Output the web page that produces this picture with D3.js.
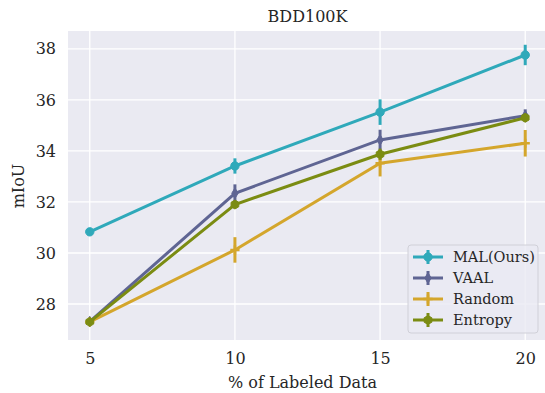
<!DOCTYPE html>
<html>
<head>
<meta charset="utf-8">
<script src="https://cdn.jsdelivr.net/npm/d3@7"></script>
<style>
  body { margin: 0; background: #fff; }
  svg text { font-family: "DejaVu Serif", serif; fill: #262626; }
</style>
</head>
<body>
<svg id="chart" width="545" height="393"></svg>
<script>
// values
const labeled = [5, 10, 15, 20];
const malMean = [30.83, 33.41, 35.52, 37.76];
const malErr = [0.12, 0.3, 0.5, 0.4];
const vaalMean = [27.31, 32.34, 34.43, 35.38];
const vaalErr = [0.12, 0.35, 0.4, 0.25];
const randomMean = [27.3, 30.12, 33.52, 34.3];
const randomErr = [0.1, 0.5, 0.52, 0.52];
const entropyMean = [27.3, 31.9, 33.87, 35.3];
const entropyErr = [0.1, 0.15, 0.22, 0.15];
const yTicks = [28, 30, 32, 34, 36, 38];

const series = [
  { name: "MAL(Ours)", color: "#2fa9ba", mean: malMean, err: malErr, marker: d3.symbolCircle, size: 55 },
  { name: "VAAL", color: "#5f6593", mean: vaalMean, err: vaalErr, marker: "diamond", size: 50 },
  { name: "Random", color: "#d4a62c", mean: randomMean, err: randomErr, marker: "plus", size: 50 },
  { name: "Entropy", color: "#7b8c12", mean: entropyMean, err: entropyErr, marker: "hexagon", size: 55 }
];

const svg = d3.select("#chart");
const margin = { left: 68, top: 31, right: 547, bottom: 340 };

const x = d3.scaleLinear().domain([4.25, 20.75]).range([margin.left, margin.right]);
const y = d3.scaleLinear().domain([26.59, 38.7]).range([margin.bottom, margin.top]);

svg.append("rect")
  .attr("x", margin.left).attr("y", margin.top)
  .attr("width", margin.right - margin.left).attr("height", margin.bottom - margin.top)
  .attr("fill", "#eaeaf2");

// grid
svg.append("g").selectAll("line").data(labeled).join("line")
  .attr("x1", d => x(d)).attr("x2", d => x(d))
  .attr("y1", margin.top).attr("y2", margin.bottom)
  .attr("stroke", "#fff").attr("stroke-width", 1.3);
svg.append("g").selectAll("line").data(yTicks).join("line")
  .attr("x1", margin.left).attr("x2", margin.right)
  .attr("y1", d => y(d)).attr("y2", d => y(d))
  .attr("stroke", "#fff").attr("stroke-width", 1.3);

// axes (labels only, seaborn style)
const xAxis = svg.append("g").attr("transform", `translate(0,${margin.bottom})`)
  .call(d3.axisBottom(x).tickValues(labeled).tickSize(0).tickPadding(13));
xAxis.select(".domain").remove();
xAxis.selectAll("text").attr("font-size", 16).attr("font-family", "DejaVu Serif").attr("fill", "#262626");

const yAxis = svg.append("g").attr("transform", `translate(${margin.left},0)`)
  .call(d3.axisLeft(y).tickValues(yTicks).tickSize(0).tickPadding(12));
yAxis.select(".domain").remove();
yAxis.selectAll("text").attr("font-size", 16).attr("font-family", "DejaVu Serif").attr("fill", "#262626");

svg.append("text").attr("x", (margin.left + margin.right) / 2).attr("y", 22)
  .attr("text-anchor", "middle").attr("font-size", 16).text("BDD100K");
svg.append("text").attr("x", (margin.left + margin.right) / 2 - 5).attr("y", 388)
  .attr("text-anchor", "middle").attr("font-size", 16).text("% of Labeled Data");
svg.append("text").attr("transform", "translate(24,186) rotate(-90)")
  .attr("text-anchor", "middle").attr("font-size", 16).text("mIoU");

function markerPath(m, size) {
  if (m === "diamond") {
    const h = Math.sqrt(size) * 0.75, w = h * 0.6;
    return `M0,${-h}L${w},0L0,${h}L${-w},0Z`;
  }
  if (m === "plus") {
    const h = Math.sqrt(size) * 0.65;
    return `M${-h},0L${h},0M0,${-h}L0,${h}`;
  }
  if (m === "hexagon") {
    const r = Math.sqrt(size) * 0.6;
    return d3.range(6).map((i, k) => {
      const a = Math.PI / 6 + i * Math.PI / 3;
      return (k ? "L" : "M") + (r * Math.cos(a)) + "," + (r * Math.sin(a));
    }).join("") + "Z";
  }
  return d3.symbol().type(m).size(size)();
}

const line = d3.line().x(d => x(d[0])).y(d => y(d[1]));

series.forEach(s => {
  const pts = labeled.map((v, i) => [v, s.mean[i], s.err[i]]);
  const g = svg.append("g");
  g.append("path").datum(pts).attr("d", line)
    .attr("fill", "none").attr("stroke", s.color).attr("stroke-width", 3);
  g.selectAll("line.err").data(pts).join("line").attr("class", "err")
    .attr("x1", d => x(d[0])).attr("x2", d => x(d[0]))
    .attr("y1", d => y(d[1] - d[2])).attr("y2", d => y(d[1] + d[2]))
    .attr("stroke", s.color).attr("stroke-width", 3);
  g.selectAll("path.mk").data(pts).join("path").attr("class", "mk")
    .attr("transform", d => `translate(${x(d[0])},${y(d[1])})`)
    .attr("d", markerPath(s.marker, s.size))
    .attr("fill", s.marker === "plus" ? "none" : s.color)
    .attr("stroke", s.color).attr("stroke-width", s.marker === "plus" ? 2.5 : 1);
});

// legend
const lg = svg.append("g").attr("transform", "translate(408,245)");
lg.append("rect").attr("width", 130).attr("height", 88).attr("rx", 3)
  .attr("fill", "#eaeaf2").attr("fill-opacity", 0.8)
  .attr("stroke", "#d0d0d8").attr("stroke-width", 1);
series.forEach((s, i) => {
  const cy = 12 + i * 21;
  const row = lg.append("g").attr("transform", `translate(0,${cy})`);
  row.append("line").attr("x1", 5).attr("x2", 35).attr("stroke", s.color).attr("stroke-width", 3);
  row.append("line").attr("x1", 20).attr("x2", 20).attr("y1", -7).attr("y2", 7)
    .attr("stroke", s.color).attr("stroke-width", 3);
  row.append("path").attr("transform", "translate(20,0)")
    .attr("d", markerPath(s.marker, s.size))
    .attr("fill", s.marker === "plus" ? "none" : s.color)
    .attr("stroke", s.color).attr("stroke-width", s.marker === "plus" ? 2.5 : 1);
  row.append("text").attr("x", 45).attr("y", 5).attr("font-size", 14.5).text(s.name);
});
</script>
</body>
</html>
